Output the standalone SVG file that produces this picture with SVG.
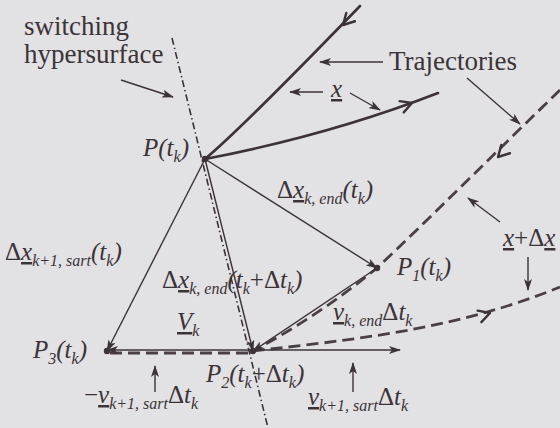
<svg xmlns="http://www.w3.org/2000/svg" width="560" height="428" viewBox="0 0 560 428">
<style>
text{font-family:"Liberation Serif","Times New Roman",serif;fill:#3b3336}
.lbl{font-size:27px}
.m{font-size:25px}
.i{font-style:italic}
.s{font-size:16px;font-style:italic}
.u{text-decoration:underline}
.thin{stroke:#3b3336;stroke-width:1.4;fill:none}
.traj{stroke:#3b3336;stroke-width:2.6;fill:none;stroke-linecap:round}
.dash{stroke:#4a4043;stroke-width:2.8;fill:none;stroke-dasharray:12 6}
.hs{stroke:#3b3336;stroke-width:1.6;fill:none;stroke-dasharray:7 3 1.5 3}
.chev{stroke:#3b3336;stroke-width:2.4;fill:none;stroke-linecap:round;stroke-linejoin:round}
</style>
<defs>
<marker id="ah" viewBox="0 0 12 8" refX="11" refY="4" markerWidth="12" markerHeight="8" markerUnits="userSpaceOnUse" orient="auto">
<path d="M0,0 L12,4 L0,8 L3,4 z" fill="#3b3336"/>
</marker>
<path id="chev" d="M -11 -6 L 0 0 L -11 6"/>
</defs>
<rect x="0" y="0" width="560" height="428" fill="#e2e1e4"/>

<g id="connectors">
<line class="hs" x1="172" y1="38" x2="268" y2="428"/>
<path class="traj" d="M 360 6 Q 240 130 205 159"/>
<path class="traj" d="M 205 159 Q 330 135 438 93"/>
<path class="dash" d="M 560 90 C 500 148, 430 218, 377 268 Q 320 315 253 351"/>
<path class="dash" d="M 253 351 C 350 340, 455 330, 560 287"/>
<line class="dash" x1="110" y1="353" x2="253" y2="353"/>
<use href="#chev" class="chev" transform="translate(343,25) rotate(134)"/>
<use href="#chev" class="chev" transform="translate(412,103) rotate(-20)"/>
<use href="#chev" class="chev" transform="translate(498,157) rotate(134)"/>
<use href="#chev" class="chev" transform="translate(490,313) rotate(-18)"/>
<line class="thin" x1="205" y1="159" x2="107" y2="351" marker-end="url(#ah)"/>
<line class="thin" x1="205" y1="159" x2="377" y2="268" marker-end="url(#ah)"/>
<line class="thin" x1="205" y1="159" x2="253" y2="351" marker-end="url(#ah)"/>
<line class="thin" x1="377" y1="268" x2="253" y2="351" marker-end="url(#ah)"/>
<line class="thin" x1="253" y1="350" x2="107" y2="350" marker-end="url(#ah)"/>
<line class="thin" x1="253" y1="350" x2="400" y2="350" marker-end="url(#ah)"/>
<line class="thin" x1="121" y1="80" x2="173" y2="97" marker-end="url(#ah)"/>
<line class="thin" x1="383" y1="62" x2="320" y2="62" marker-end="url(#ah)"/>
<line class="thin" x1="467" y1="78" x2="520" y2="124" marker-end="url(#ah)"/>
<line class="thin" x1="323" y1="92" x2="290" y2="92" marker-end="url(#ah)"/>
<line class="thin" x1="350" y1="93" x2="380" y2="110" marker-end="url(#ah)"/>
<line class="thin" x1="500" y1="222" x2="468" y2="198" marker-end="url(#ah)"/>
<line class="thin" x1="528" y1="257" x2="528" y2="290" marker-end="url(#ah)"/>
<line class="thin" x1="155" y1="392" x2="155" y2="366" marker-end="url(#ah)"/>
<line class="thin" x1="353" y1="392" x2="353" y2="363" marker-end="url(#ah)"/>
</g>

<g id="P"><circle cx="205" cy="159" r="3.2" fill="#3b3336"/>
<text class="m i" x="143" y="156">P(t<tspan class="s" dy="6">k</tspan><tspan dy="-6">)</tspan></text></g>
<g id="P1"><circle cx="377" cy="268" r="3.2" fill="#3b3336"/>
<text class="m i" x="397" y="275">P<tspan class="s" dy="6">1</tspan><tspan dy="-6">(t</tspan><tspan class="s" dy="6">k</tspan><tspan dy="-6">)</tspan></text></g>
<g id="P2"><circle cx="253" cy="351" r="3.2" fill="#3b3336"/>
<text class="m i" x="206" y="382">P<tspan class="s" dy="6">2</tspan><tspan dy="-6">(t</tspan><tspan class="s" dy="6">k</tspan><tspan dy="-6" font-style="normal">+Δ</tspan><tspan>t</tspan><tspan class="s" dy="6">k</tspan><tspan dy="-6">)</tspan></text></g>
<g id="P3"><circle cx="107" cy="351" r="3.2" fill="#3b3336"/>
<text class="m i" x="33" y="358">P<tspan class="s" dy="6">3</tspan><tspan dy="-6">(t</tspan><tspan class="s" dy="6">k</tspan><tspan dy="-6">)</tspan></text></g>

<g id="labels">
<text class="lbl" x="24" y="35">switching</text>
<text class="lbl" x="24" y="63">hypersurface</text>
<text class="lbl" x="389" y="70">Trajectories</text>
<text class="m i u" x="331" y="97">x</text>
<text class="m" x="277" y="198">Δ<tspan class="i u">x</tspan><tspan class="s" dy="6">k, end</tspan><tspan class="i" dy="-6">(t</tspan><tspan class="s" dy="6">k</tspan><tspan class="i" dy="-6">)</tspan></text>
<text class="m" x="5" y="260">Δ<tspan class="i u">x</tspan><tspan class="s" dy="6">k+1, sart</tspan><tspan class="i" dy="-6">(t</tspan><tspan class="s" dy="6">k</tspan><tspan class="i" dy="-6">)</tspan></text>
<text class="m" x="162" y="288">Δ<tspan class="i u">x</tspan><tspan class="s" dy="6">k, end</tspan><tspan class="i" dy="-6">(t</tspan><tspan class="s" dy="6">k</tspan><tspan dy="-6">+Δ</tspan><tspan class="i">t</tspan><tspan class="s" dy="6">k</tspan><tspan class="i" dy="-6">)</tspan></text>
<text class="m" x="177" y="330"><tspan class="i u">V</tspan><tspan class="s" dy="6">k</tspan></text>
<text class="m" x="333" y="320"><tspan class="i u">v</tspan><tspan class="s" dy="6">k, end</tspan><tspan dy="-6">Δ</tspan><tspan class="i">t</tspan><tspan class="s" dy="6">k</tspan></text>
<text class="m" x="84" y="403">−<tspan class="i u">v</tspan><tspan class="s" dy="6">k+1, sart</tspan><tspan dy="-6">Δ</tspan><tspan class="i">t</tspan><tspan class="s" dy="6">k</tspan></text>
<text class="m" x="308" y="405"><tspan class="i u">v</tspan><tspan class="s" dy="6">k+1, sart</tspan><tspan dy="-6">Δ</tspan><tspan class="i">t</tspan><tspan class="s" dy="6">k</tspan></text>
<text class="m" x="503" y="246" font-size="27"><tspan class="i u">x</tspan>+Δ<tspan class="i u">x</tspan></text>
</g>
</svg>
